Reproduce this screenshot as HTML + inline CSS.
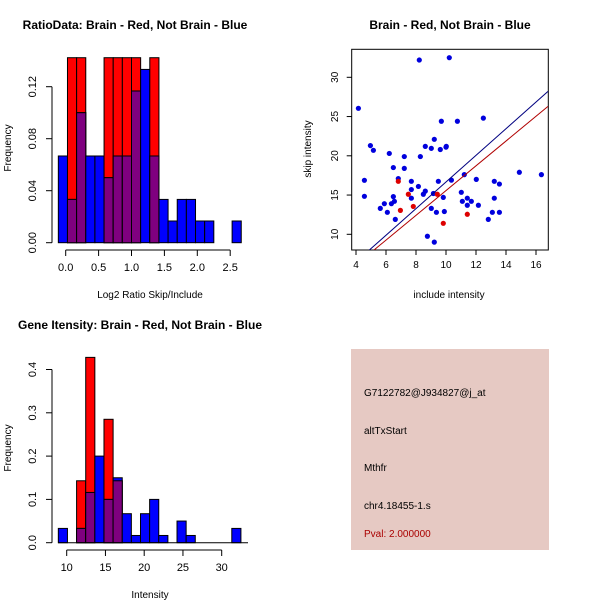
<!DOCTYPE html>
<html><head><meta charset="utf-8"><style>
body{margin:0;background:#fff}
svg{display:block;font-family:"Liberation Sans",sans-serif}
</style></head><body>
<svg id="s" width="600" height="600" viewBox="0 0 600 600"></svg>
<script>
// Panel 1: ratio histogram
const ratioBlue=[0.0667,0.0333,0.1,0.0667,0.0667,0.05,0.0667,0.0667,0.1167,0.1333,0.0667,0.0333,0.0167,0.0333,0.0333,0.0167,0.0167,0,0,0.0167];
const ratioRed=[0,0.143,0.143,0,0,0.143,0.143,0.143,0.143,0,0.143,0,0,0,0,0,0,0,0,0];
const ratioXTicks=[0,0.5,1,1.5,2,2.5];
const ratioXLabels=["0.0","0.5","1.0","1.5","2.0","2.5"];
const ratioYTicks=[0,0.04,0.08,0.12];
const ratioYLabels=["0.00","0.04","0.08","0.12"];
const ratioStart=-0.112, ratioBin=0.139;
// Panel 3: intensity histogram
const intBlue=[0.033,0,0.033,0.116,0.2,0.1,0.15,0.067,0.0167,0.067,0.1,0.0167,0,0.05,0.0167,0,0,0,0,0.033];
const intRed=[0,0,0.143,0.428,0,0.285,0.143,0,0,0,0,0,0,0,0,0,0,0,0,0];
const intXTicks=[10,15,20,25,30];
const intYTicks=[0,0.1,0.2,0.3,0.4];
const intYLabels=["0.0","0.1","0.2","0.3","0.4"];
const intStart=8.92, intBin=1.178;
// Panel 2: scatter
const blueX=[4.16,4.56,4.56,4.96,5.16,5.62,5.89,6.09,6.22,6.36,6.49,6.49,6.56,6.62,6.82,7.22,7.22,7.69,7.69,7.69,8.16,8.22,8.29,8.49,8.62,8.62,8.76,9.02,9.02,9.16,9.22,9.22,9.36,9.49,9.62,9.69,9.82,9.89,10.02,10.0,10.22,10.36,10.76,11.02,11.09,11.22,11.42,11.42,11.69,12.02,12.16,12.49,12.82,13.09,13.22,13.22,13.56,13.56,14.89,16.36];
const blueY=[26.05,16.88,14.84,21.3,20.7,13.3,13.9,12.8,20.3,13.9,18.5,14.8,14.2,11.9,17.1,19.9,18.4,16.75,15.7,14.6,16.1,32.2,19.9,15.1,15.5,21.2,9.75,13.3,20.95,15.2,22.1,9.0,12.8,16.75,20.8,24.4,14.7,12.9,21.2,21.1,32.5,16.9,24.4,15.35,14.2,17.6,14.6,13.7,14.2,17.0,13.7,24.8,11.9,12.8,16.75,14.6,16.4,12.8,17.9,17.6];
const redX=[6.82,6.96,7.49,7.82,9.42,9.82,11.42];
const redY=[16.75,13.05,15.1,13.55,15.1,11.4,12.55];
const blueLine=[4.89,8,16.8,28.2];
const redLine=[5.2,8,16.8,26.3];
const scXTicks=[4,6,8,10,12,14,16];
const scYTicks=[10,15,20,25,30];

const svg=document.getElementById('s');
const NS='http://www.w3.org/2000/svg';
function mk(tag,attrs,name,parent){
  const e=document.createElementNS(NS,tag);
  for(const k in attrs)e.setAttribute(k,attrs[k]);
  
  
  (parent||svg).appendChild(e);return e;
}
function txt(x,y,s,name,opt){
  const o=Object.assign({x:x,y:y,'font-size':11,fill:'#000','text-anchor':'middle'},opt||{});
  const t=mk('text',o,name);t.textContent=s;return t;
}
function hist(blue,red,start,bin,sx,sy,y0,yTop,name){
  const g=mk('g',{},name+'-bars');
  const w=sx(start+bin)-sx(start);
  for(let i=0;i<blue.length;i++){
    const x=sx(start+i*bin);
    const clip=v=>Math.max(yTop,sy(v));
    if(red[i]>0){
      mk('rect',{x:x,y:clip(red[i]),width:w,height:y0-clip(red[i]),fill:'#ff0000',stroke:'#000','stroke-width':1},name+'-red-bar',g);
    }
    if(blue[i]>0){
      mk('rect',{x:x,y:clip(blue[i]),width:w,height:y0-clip(blue[i]),fill:'#0000ff',stroke:'#000','stroke-width':1},name+'-blue-bar',g);
    }
    const m=Math.min(blue[i],red[i]);
    if(m>0){
      mk('rect',{x:x,y:clip(m),width:w,height:y0-clip(m),fill:'#7f007f',stroke:'#000','stroke-width':1},name+'-overlap-bar',g);
    }
  }
}
function xAxis(ticks,labels,sx,y,name){
  mk('line',{x1:sx(ticks[0]),x2:sx(ticks[ticks.length-1]),y1:y,y2:y,stroke:'#000'},name+'-line');
  ticks.forEach((t,i)=>{
    mk('line',{x1:sx(t),x2:sx(t),y1:y,y2:y+6,stroke:'#000'},name+'-tick');
    txt(sx(t),y+21,labels[i],name+'-label');
  });
}
function yAxis(ticks,labels,sy,x,name){
  mk('line',{x1:x,x2:x,y1:sy(ticks[0]),y2:sy(ticks[ticks.length-1]),stroke:'#000'},name+'-line');
  ticks.forEach((t,i)=>{
    mk('line',{x1:x-6,x2:x,y1:sy(t),y2:sy(t),stroke:'#000'},name+'-tick');
    txt(x-16,sy(t),labels[i],name+'-label',{transform:`rotate(-90 ${x-16} ${sy(t)})`});
  });
}
// Panel 1
{
  const sx=v=>65.7+v*65.8, sy=v=>242.7-v*1300;
  txt(135,29,'RatioData: Brain - Red, Not Brain - Blue','ratio-title',{'font-weight':'bold','font-size':12});
  hist(ratioBlue,ratioRed,ratioStart,ratioBin,sx,sy,242.7,57.7,'ratio');
  xAxis(ratioXTicks,ratioXLabels,sx,250,'ratio-x-axis');
  yAxis(ratioYTicks,ratioYLabels,sy,52,'ratio-y-axis');
  txt(150,298,'Log2 Ratio Skip/Include','ratio-x-title',{'font-size':10});
  txt(11,148,'Frequency','ratio-y-title',{'font-size':10,transform:'rotate(-90 11 148)'});
}
// Panel 3
{
  const sx=v=>66.7+(v-10)*7.75, sy=v=>542.7-v*433;
  txt(140,329,'Gene Itensity: Brain - Red, Not Brain - Blue','intensity-title',{'font-weight':'bold','font-size':12});
  hist(intBlue,intRed,intStart,intBin,sx,sy,542.7,350,'intensity');
  mk('line',{x1:58,x2:248,y1:542.7,y2:542.7,stroke:'#000'},'intensity-baseline');
  xAxis(intXTicks,intXTicks.map(String),sx,550,'intensity-x-axis');
  yAxis(intYTicks,intYLabels,sy,52,'intensity-y-axis');
  txt(150,598,'Intensity','intensity-x-title',{'font-size':10});
  txt(11,448,'Frequency','intensity-y-title',{'font-size':10,transform:'rotate(-90 11 448)'});
}
// Panel 2
{
  const sx=v=>356+(v-4)*15, sy=v=>234.3-(v-10)*7.85;
  txt(450,29,'Brain - Red, Not Brain - Blue','scatter-title',{'font-weight':'bold','font-size':12});
  mk('rect',{x:351.7,y:49.3,width:196.6,height:200.7,fill:'none',stroke:'#000'},'scatter-plot-box');
  const cp=mk('clipPath',{id:'cp'},'scatter-clip');
  mk('rect',{x:351.7,y:49.3,width:196.6,height:200.7},'scatter-clip-rect',cp);
  const g=mk('g',{'clip-path':'url(#cp)'},'scatter-marks');
  blueX.forEach((x,i)=>mk('circle',{cx:sx(x),cy:sy(blueY[i]),r:2.6,fill:'#0000dd'},'blue-point',g));
  redX.forEach((x,i)=>mk('circle',{cx:sx(x),cy:sy(redY[i]),r:2.6,fill:'#dd0000'},'red-point',g));
  mk('line',{x1:sx(blueLine[0]),y1:sy(blueLine[1]),x2:sx(blueLine[2]),y2:sy(blueLine[3]),stroke:'#000080','stroke-width':1},'blue-fit-line',g);
  mk('line',{x1:sx(redLine[0]),y1:sy(redLine[1]),x2:sx(redLine[2]),y2:sy(redLine[3]),stroke:'#b00000','stroke-width':1},'red-fit-line',g);
  scXTicks.forEach(t=>{
    mk('line',{x1:sx(t),x2:sx(t),y1:250,y2:255,stroke:'#000'},'scatter-x-tick');
    txt(sx(t),268,String(t),'scatter-x-label',{'font-size':10});
  });
  scYTicks.forEach(t=>{
    mk('line',{x1:346.7,x2:351.7,y1:sy(t),y2:sy(t),stroke:'#000'},'scatter-y-tick');
    txt(338,sy(t),String(t),'scatter-y-label',{'font-size':10,transform:`rotate(-90 338 ${sy(t)})`});
  });
  txt(449,298,'include intensity','scatter-x-title',{'font-size':10});
  txt(311,149,'skip intensity','scatter-y-title',{'font-size':10,transform:'rotate(-90 311 149)'});
}
// Panel 4
{
  mk('rect',{x:351,y:349,width:198,height:201,fill:'#e6c9c3'},'info-box');
  txt(364,396,'G7122782@J934827@j_at','info-probe-id',{'text-anchor':'start','font-size':10});
  txt(364,434,'altTxStart','info-event-type',{'text-anchor':'start','font-size':10});
  txt(364,471,'Mthfr','info-gene',{'text-anchor':'start','font-size':10});
  txt(364,509,'chr4.18455-1.s','info-location',{'text-anchor':'start','font-size':10});
  txt(364,537,'Pval: 2.000000','info-pval',{'text-anchor':'start','font-size':10,fill:'#aa0000'});
}
</script>
</body></html>
